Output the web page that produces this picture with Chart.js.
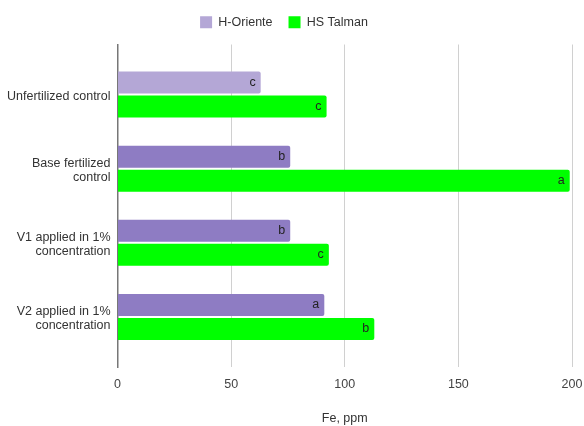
<!DOCTYPE html>
<html>
<head>
<meta charset="utf-8">
<script src="https://cdn.jsdelivr.net/npm/chart.js@4.4.1/dist/chart.umd.min.js"></script>
<style>
  html, body { margin: 0; padding: 0; background: #fff; }
  #wrap { width: 584px; height: 426px; }
</style>
</head>
<body>
<div id="wrap"><canvas id="c" width="584" height="426"></canvas></div>
<script>
// Treatments (multi-line labels)
const categories = [
  ['Unfertilized control'],
  ['Base fertilized', 'control'],
  ['V1 applied in 1%', 'concentration'],
  ['V2 applied in 1%', 'concentration']
];
// Fe content, ppm
const hOriente = [63, 76, 76, 91];
const hsTalman = [92, 199, 93, 113];
// Significance groups shown at the end of each bar
const hOrienteGroups = ['c', 'b', 'b', 'a'];
const hsTalmanGroups = ['c', 'a', 'c', 'b'];
const xTicks = [0, 50, 100, 150, 200];

const FONT = '"Liberation Sans", Arial, sans-serif';
const FS = 12.5;
const purpleLight = '#b4a7d6';
const purple = '#8e7cc3';
const green = '#00ff00';

// Category axis with a little extra space above the first and below the last group
class PaddedCategoryScale extends Chart.CategoryScale {
  buildTicks() {
    const ticks = super.buildTicks();
    const pad = 0.175;
    this._startValue -= pad;
    this._valueRange += 2 * pad;
    return ticks;
  }
}
PaddedCategoryScale.id = 'paddedCategory';
PaddedCategoryScale.defaults = Chart.CategoryScale.defaults;
Chart.register(PaddedCategoryScale);

// Legend: extra room below it, and nudged slightly left of centre
const legendTweak = {
  id: 'legendTweak',
  beforeLayout(chart) {
    const lg = chart.legend;
    if (lg && !lg._extraGap) {
      const fit = lg.fit.bind(lg);
      lg.fit = function () { fit(); this.height += 6; };
      lg._extraGap = true;
    }
  },
  afterLayout(chart) {
    const lg = chart.legend;
    if (lg) { lg.left -= 2; lg.right -= 2; }
  }
};

// Writes the group letter just inside the end of each bar
const groupLetters = {
  id: 'groupLetters',
  afterDatasetsDraw(chart) {
    const ctx = chart.ctx;
    const groups = [hOrienteGroups, hsTalmanGroups];
    ctx.save();
    ctx.font = FS + 'px ' + FONT;
    ctx.fillStyle = '#222';
    ctx.textAlign = 'right';
    ctx.textBaseline = 'middle';
    chart.data.datasets.forEach((ds, di) => {
      chart.getDatasetMeta(di).data.forEach((bar, i) => {
        ctx.fillText(groups[di][i], bar.x - 5, bar.y);
      });
    });
    ctx.restore();
  }
};

new Chart(document.getElementById('c'), {
  type: 'bar',
  data: {
    labels: categories,
    datasets: [
      {
        label: 'H-Oriente',
        data: hOriente,
        backgroundColor: hOriente.map((v, i) => i === 0 ? purpleLight : purple),
        borderRadius: 2,
        borderSkipped: 'start',
        categoryPercentage: 0.646,
        barPercentage: 0.917
      },
      {
        label: 'HS Talman',
        data: hsTalman,
        backgroundColor: green,
        borderRadius: 2,
        borderSkipped: 'start',
        categoryPercentage: 0.646,
        barPercentage: 0.917
      }
    ]
  },
  options: {
    indexAxis: 'y',
    responsive: false,
    animation: false,
    devicePixelRatio: 1,
    layout: { padding: { top: 0, right: 12, bottom: 0, left: 0 } },
    plugins: {
      legend: {
        position: 'top',
        align: 'center',
        labels: {
          font: { family: FONT, size: FS },
          color: '#333',
          boxWidth: 12,
          boxHeight: 12,
          padding: 16,
          generateLabels(chart) {
            const fills = [purpleLight, green];
            return chart.data.datasets.map((ds, i) => ({
              text: ds.label,
              fillStyle: fills[i],
              strokeStyle: fills[i],
              lineWidth: 0,
              hidden: false,
              datasetIndex: i,
              fontColor: '#333'
            }));
          }
        }
      },
      tooltip: { enabled: false }
    },
    scales: {
      x: {
        type: 'linear',
        min: 0,
        max: 200,
        afterBuildTicks(axis) { axis.ticks = xTicks.map(v => ({ value: v })); },
        afterFit(axis) { axis.paddingRight = 0; },
        grid: { color: '#d0d0d0', lineWidth: 1, drawTicks: false },
        border: { display: false },
        ticks: { font: { family: FONT, size: FS }, color: '#444', padding: 10 },
        title: {
          display: true,
          text: 'Fe, ppm',
          font: { family: FONT, size: FS },
          color: '#333',
          padding: { top: 9, bottom: 0 }
        }
      },
      y: {
        type: 'paddedCategory',
        offset: true,
        grid: { display: false, drawTicks: false },
        border: { display: true, color: '#777', width: 1.5 },
        ticks: { font: { family: FONT, size: FS, lineHeight: 1.12 }, color: '#333', padding: 7, labelOffset: 2 }
      }
    }
  },
  plugins: [legendTweak, groupLetters]
});
</script>
</body>
</html>
